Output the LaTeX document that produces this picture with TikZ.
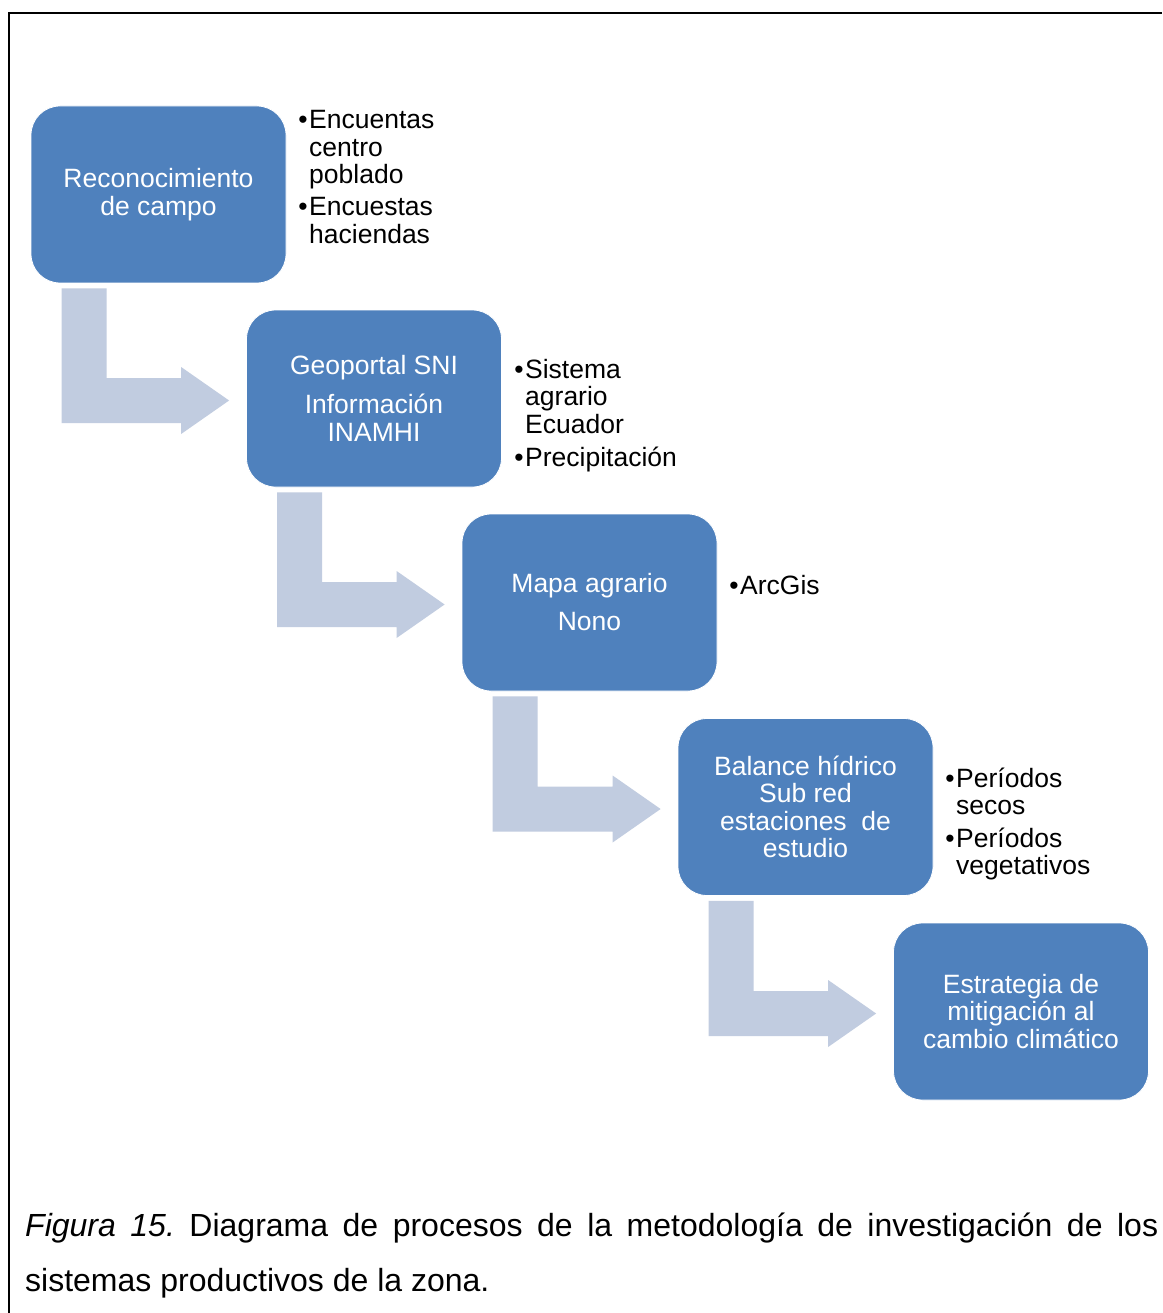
\documentclass[tikz,border=0pt]{standalone}
\usepackage{fontspec}
\setmainfont{Liberation Sans}
\usetikzlibrary{calc}
\frenchspacing
\definecolor{boxblue}{RGB}{79,129,189}
\definecolor{arrowc}{RGB}{193,204,224}
\tikzset{
  stepbox/.style={rectangle, rounded corners=29pt, fill=boxblue, draw=white, line width=0.8pt,
    minimum width=255pt, minimum height=177pt, text=white, align=center, inner sep=0pt,
    font=\fontsize{26.5}{27.5}\selectfont},
  bullets/.style={anchor=base west, inner sep=0pt, text=black, font=\fontsize{26.5}{27.5}\selectfont},
  captxt/.style={anchor=base west, inner sep=0pt, text=black, font=\fontsize{32}{40}\selectfont}
}
\newcommand\bentarr[2]{%
  \coordinate (st) at ($(#1.south west)+(31,5)$);
  \coordinate (hd) at ($(#2.west)+(-65,0)$);
  \fill[arrowc] (st) -- ++(45,0) |- ($(hd)+(0,-20.5)$) -- ($(hd)+(0,-31.5)$)
    -- ($(#2.west)+(-17,2)$) -- ($(hd)+(0,35.5)$) -- ($(hd)+(0,24.5)$) -| (st) -- cycle;
}
\newcommand\bitem[1]{\parbox[t]{250pt}{\leavevmode\llap{•\hspace{1.5pt}}#1}}
\begin{document}
\begin{tikzpicture}[x=1pt,y=-1pt]
\useasboundingbox (0,0) rectangle (1162,1313);
\fill[white] (0,0) rectangle (1162,1313);
% frame
\draw[line width=2pt] (1162,13) -- (9,13) -- (9,1313);
% boxes
\node[stepbox] (b1) at (158.5,194.5) {Reconocimiento\\de campo};
\node[stepbox] (b2) at (374,398.5) {Geoportal SNI\\[11.5pt]Información\\INAMHI};
\node[stepbox] (b3) at (589.5,602.5) {Mapa agrario\\[10.5pt]Nono};
\node[stepbox] (b4) at (805.5,807) {Balance hídrico\\Sub red\\estaciones\ \ de\\estudio};
\node[stepbox] (b5) at (1021,1011.5) {Estrategia de\\mitigación al\\cambio climático};
% arrows
\bentarr{b1}{b2}
\bentarr{b2}{b3}
\bentarr{b3}{b4}
\bentarr{b4}{b5}
% bullet lists
\node[bullets] (l1a) at (309,129) {\bitem{Encuentas\\centro\\poblado}};
\node[bullets] (l1b) at (309,216) {\bitem{Encuestas\\haciendas}};
\node[bullets] (l2a) at (525,378) {\bitem{Sistema\\agrario\\Ecuador}};
\node[bullets] (l2b) at (525,466) {\bitem{Precipitación}};
\node[bullets] (l3) at (740,594) {\bitem{ArcGis}};
\node[bullets] (l4a) at (956,787) {\bitem{Períodos\\secos}};
\node[bullets] (l4b) at (956,847) {\bitem{Períodos\\vegetativos}};
% caption
\node[captxt] (cap1) at (25,1236) {\makebox[1133pt][s]{\textit{Figura 15.} Diagrama de procesos de la metodología de investigación de los}};
\node[captxt] (cap2) at (25,1291) {sistemas productivos de la zona.};
\end{tikzpicture}
\end{document}
